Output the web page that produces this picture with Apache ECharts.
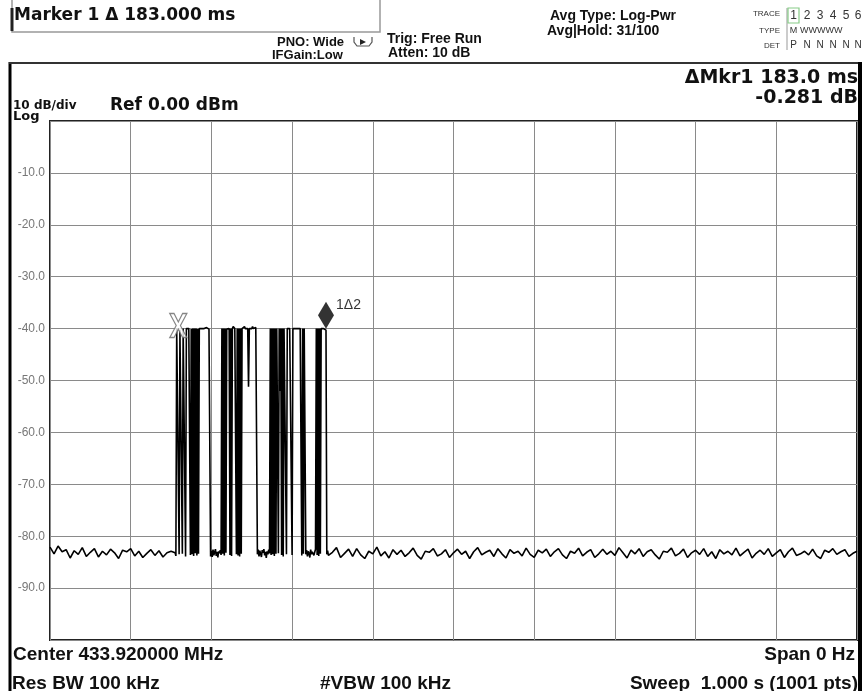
<!DOCTYPE html>
<html><head><meta charset="utf-8">
<script src="https://cdn.jsdelivr.net/npm/echarts@6/dist/echarts.min.js"></script>
<style>html,body{margin:0;padding:0;background:#fff}#c{width:864px;height:691px}</style>
</head><body><div id="c"></div>
<script>
// ---- data ----
const sweepRangeMs = [0, 1000];
const levelRangeDb = [-100, 0];
const noiseStepMs = 5;
// noise floor, t = 0 .. 150 ms (5 ms step)
const noiseBefore = [-82.1,-83.4,-81.9,-83.0,-82.6,-84.2,-82.8,-83.5,-82.2,-83.9,-83.1,-82.4,-84.0,-82.9,-83.6,-82.5,-83.2,-84.3,-82.7,-83.0,-82.4,-83.8,-82.9,-84.1,-83.3,-82.6,-83.7,-82.8,-84.0,-83.2,-82.9];
// burst, t = 155 .. 345 ms (1 ms step)
const burstStartMs = 155;
const burst = [
-83.2,-83.8,-40.0,-40.1,-40.0,-83.5,-40.2,-40.0,-39.9,-83.4,
-40.0,-40.1,-40.0,-83.9,-40.0,-40.1,-39.9,-40.0,-40.0,-83.6,
-40.1,-83.5,-40.0,-83.8,-40.0,-83.3,-40.0,-83.7,-40.1,-83.4,
-40.0,-40.1,-39.8,-40.0,-40.0,-39.9,-40.0,-40.1,-40.0,-39.8,
-40.0,-40.0,-40.1,-40.0,-83.9,-82.8,-84.0,-82.6,-83.7,-83.1,
-82.5,-83.8,-83.0,-84.1,-82.9,-83.3,-82.7,-83.6,-40.0,-83.4,
-40.0,-83.7,-40.0,-83.2,-40.1,-40.0,-40.0,-40.0,-83.6,-40.0,
-83.8,-40.0,-39.6,-39.8,-40.0,-40.0,-83.5,-40.0,-83.7,-40.0,
-83.9,-40.0,-83.4,-40.0,-39.7,-40.0,-39.6,-40.0,-39.8,-40.0,
-40.0,-51.2,-40.0,-39.7,-40.0,-40.0,-39.6,-40.0,-40.1,-40.0,
-39.8,-40.0,-83.5,-82.6,-83.9,-82.8,-83.4,-84.0,-82.7,-83.2,
-82.5,-83.7,-83.0,-84.2,-82.9,-83.5,-82.6,-83.3,-40.0,-83.6,
-40.0,-83.5,-40.0,-83.8,-40.0,-83.4,-40.0,-40.0,-83.3,-40.0,
-52.0,-40.0,-83.6,-40.0,-83.9,-40.0,-40.0,-40.0,-83.5,-40.0,
-39.7,-40.0,-40.0,-39.8,-40.0,-83.6,-40.0,-40.0,-39.8,-40.0,
-40.0,-39.7,-40.0,-40.0,-40.1,-40.0,-40.0,-83.7,-40.0,-83.4,
-40.0,-40.0,-83.5,-82.7,-83.9,-82.9,-83.3,-84.1,-82.6,-83.5,
-83.0,-82.8,-83.7,-83.1,-82.5,-40.0,-83.6,-40.0,-83.8,-40.0,
-83.4,-40.0,-40.0,-40.1,-40.0,-40.2,-40.1,-40.3,-83.5,-82.8,
-83.7];
// noise floor, t = 350 .. 1000 ms (5 ms step)
const noiseAfterStartMs = 350;
const noiseAfter = [
-83.1,-82.2,-84.1,-83.3,-82.5,-83.9,-82.4,-83.6,-84.3,-82.9,
-83.4,-82.1,-83.8,-83.0,-84.2,-82.6,-83.5,-82.7,-83.9,-83.2,
-82.3,-83.7,-84.4,-82.9,-83.1,-82.4,-83.8,-83.4,-82.6,-84.1,
-83.2,-82.5,-83.5,-82.9,-84.3,-83.0,-82.2,-83.6,-83.1,-82.7,
-83.9,-82.4,-83.4,-84.2,-82.6,-83.3,-82.9,-83.8,-82.3,-83.5,
-84.1,-82.7,-83.2,-82.5,-83.9,-83.0,-82.4,-83.6,-84.3,-82.9,
-83.3,-82.3,-83.8,-83.1,-82.6,-84.1,-83.4,-82.5,-83.5,-82.9,
-83.7,-82.2,-83.2,-84.2,-82.7,-83.4,-82.4,-83.9,-83.0,-82.6,
-83.6,-84.4,-82.9,-83.1,-82.3,-83.8,-83.3,-82.5,-84.1,-83.2,
-82.7,-83.5,-82.4,-83.9,-83.0,-84.3,-82.6,-83.4,-82.9,-83.6,
-82.3,-83.8,-83.1,-82.5,-84.2,-83.3,-82.7,-83.5,-82.4,-83.9,
-83.2,-82.6,-84.1,-83.0,-82.3,-83.7,-83.4,-82.9,-83.6,-82.5,
-83.8,-84.3,-82.7,-83.1,-82.4,-83.5,-83.0,-82.6,-83.9,-83.3,-82.9];
const refMarker = [159, -40.0];
const deltaMarker = [342, -40.3];
const deltaMarkerLabel = '1\u03942';

// ---- build trace ----
const trace = [];
noiseBefore.forEach((v, i) => trace.push([i * noiseStepMs, v]));
burst.forEach((v, i) => trace.push([burstStartMs + i, v]));
noiseAfter.forEach((v, i) => trace.push([noiseAfterStartMs + i * noiseStepMs, v]));

const AR = '"Liberation Sans", Arial, sans-serif';
const DV = '"DejaVu Sans", sans-serif';
function txt(text, x, y, font, align, color) {
  return {type: 'text', x: x, y: y, silent: true,
    style: {text: text, font: font, fill: color || '#111', align: align || 'left', verticalAlign: 'middle'}};
}
function ln(x1, y1, x2, y2, color, w) {
  return {type: 'line', silent: true, shape: {x1, y1, x2, y2}, style: {stroke: color, lineWidth: w}};
}

const chart = echarts.init(document.getElementById('c'), null, {renderer: 'canvas'});
chart.setOption({
  animation: false,
  backgroundColor: '#fff',
  grid: {left: 50, right: 7, top: 121, bottom: 51, show: true, borderColor: '#222', borderWidth: 2, backgroundColor: '#fff'},
  xAxis: {type: 'value', min: sweepRangeMs[0], max: sweepRangeMs[1], interval: 100,
    axisLine: {show: false}, axisTick: {show: false}, axisLabel: {show: false},
    splitLine: {show: true, lineStyle: {color: '#8a8a8a', width: 1}}},
  yAxis: {type: 'value', min: levelRangeDb[0], max: levelRangeDb[1], interval: 10,
    axisLine: {show: false}, axisTick: {show: false},
    axisLabel: {margin: 5, color: '#777', fontFamily: AR, fontSize: 12, padding: [0, 0, 6, 0],
      formatter: v => (v === 0 || v === -100) ? '' : v.toFixed(1)},
    splitLine: {show: true, lineStyle: {color: '#8a8a8a', width: 1}}},
  series: [
    {type: 'line', data: trace, showSymbol: false, symbol: 'none', lineStyle: {color: '#000', width: 1.6}, z: 2},
    {type: 'scatter', data: [refMarker], z: 4,
      symbol: 'path://M0,0L4,0L8,7L12,0L16,0L10,10L16,20L12,20L8,13L4,20L0,20L6,10Z',
      symbolSize: [17, 24], symbolOffset: [0, -3],
      itemStyle: {color: '#fff', borderColor: '#666', borderWidth: 1.3}},
    {type: 'scatter', data: [deltaMarker], z: 5,
      symbol: 'diamond', symbolSize: [16, 27], symbolOffset: [0, -15],
      itemStyle: {color: '#000'},
      label: {show: true, position: 'right', distance: 2, offset: [0, -10], formatter: deltaMarkerLabel,
        color: '#000', fontFamily: AR, fontSize: 14}}
  ],
  graphic: [
    ln(10, 62, 10, 691, '#000', 3),
    ln(9, 63, 862, 63, '#333', 2),
    ln(860, 62, 860, 691, '#000', 4),
    {type: 'polyline', silent: true, shape: {points: [[12, 0], [12, 32], [380, 32], [380, 0]]}, style: {stroke: '#999', lineWidth: 1.5, fill: null}},
    ln(12, 8, 12, 31, '#222', 3),
    txt('Marker 1 \u0394 183.000 ms', 14, 16, 'bold 17px ' + DV),
    txt('PNO: Wide', 277, 42, 'bold 13px ' + AR),
    txt('IFGain:Low', 272, 55, 'bold 13px ' + AR),
    {type: 'polyline', silent: true, shape: {points: [[354, 37], [354, 42], [357, 46], [369, 46], [372, 42], [372, 37]]}, style: {stroke: '#555', lineWidth: 1.2, fill: null}},
    {type: 'polygon', silent: true, shape: {points: [[360, 39], [366, 42], [360, 45]]}, style: {fill: '#222'}},
    txt('Trig: Free Run', 387, 39, 'bold 14px ' + AR),
    txt('Atten: 10 dB', 388, 53, 'bold 14px ' + AR),
    txt('Avg Type: Log-Pwr', 550, 16, 'bold 14px ' + AR),
    txt('Avg|Hold: 31/100', 547, 31, 'bold 14px ' + AR),
    txt('TRACE', 780, 14, '8px ' + AR, 'right', '#333'),
    txt('TYPE', 780, 31, '8px ' + AR, 'right', '#333'),
    txt('DET', 780, 46, '8px ' + AR, 'right', '#333'),
    ln(787, 8, 787, 50, '#999', 1),
    {type: 'rect', silent: true, shape: {x: 788, y: 8, width: 11, height: 15}, style: {stroke: '#8c8', lineWidth: 1.2, fill: null}},
    txt('1', 793.5, 16, '12px ' + AR, 'center', '#333'),
    txt('2', 807, 16, '12px ' + AR, 'center', '#333'),
    txt('3', 820, 16, '12px ' + AR, 'center', '#333'),
    txt('4', 833, 16, '12px ' + AR, 'center', '#333'),
    txt('5', 846, 16, '12px ' + AR, 'center', '#333'),
    txt('6', 858, 16, '12px ' + AR, 'center', '#333'),
    txt('M', 793.5, 31, '9px ' + AR, 'center', '#333'),
    txt('WWWWW', 800, 31, '9px ' + AR, 'left', '#333'),
    txt('P', 793.5, 45, '10px ' + AR, 'center', '#333'),
    txt('N', 807, 45, '10px ' + AR, 'center', '#333'),
    txt('N', 820, 45, '10px ' + AR, 'center', '#333'),
    txt('N', 833, 45, '10px ' + AR, 'center', '#333'),
    txt('N', 846, 45, '10px ' + AR, 'center', '#333'),
    txt('N', 858, 45, '10px ' + AR, 'center', '#333'),
    txt('\u0394Mkr1 183.0 ms', 858, 78, 'bold 19px ' + DV, 'right'),
    txt('-0.281 dB', 858, 98, 'bold 19px ' + DV, 'right'),
    txt('10 dB/div', 13, 106, 'bold 12px ' + DV),
    txt('Ref 0.00 dBm', 110, 106, 'bold 17px ' + DV),
    txt('Log', 13, 117, 'bold 13px ' + DV),
    txt('Center 433.920000 MHz', 13, 655, 'bold 19px ' + AR),
    txt('Span 0 Hz', 855, 655, 'bold 19px ' + AR, 'right'),
    txt('Res BW 100 kHz', 12, 684, 'bold 19px ' + AR),
    txt('#VBW 100 kHz', 320, 684, 'bold 19px ' + AR),
    txt('Sweep  1.000 s (1001 pts)', 858, 684, 'bold 19px ' + AR, 'right')
  ]
});
</script>
</body></html>
